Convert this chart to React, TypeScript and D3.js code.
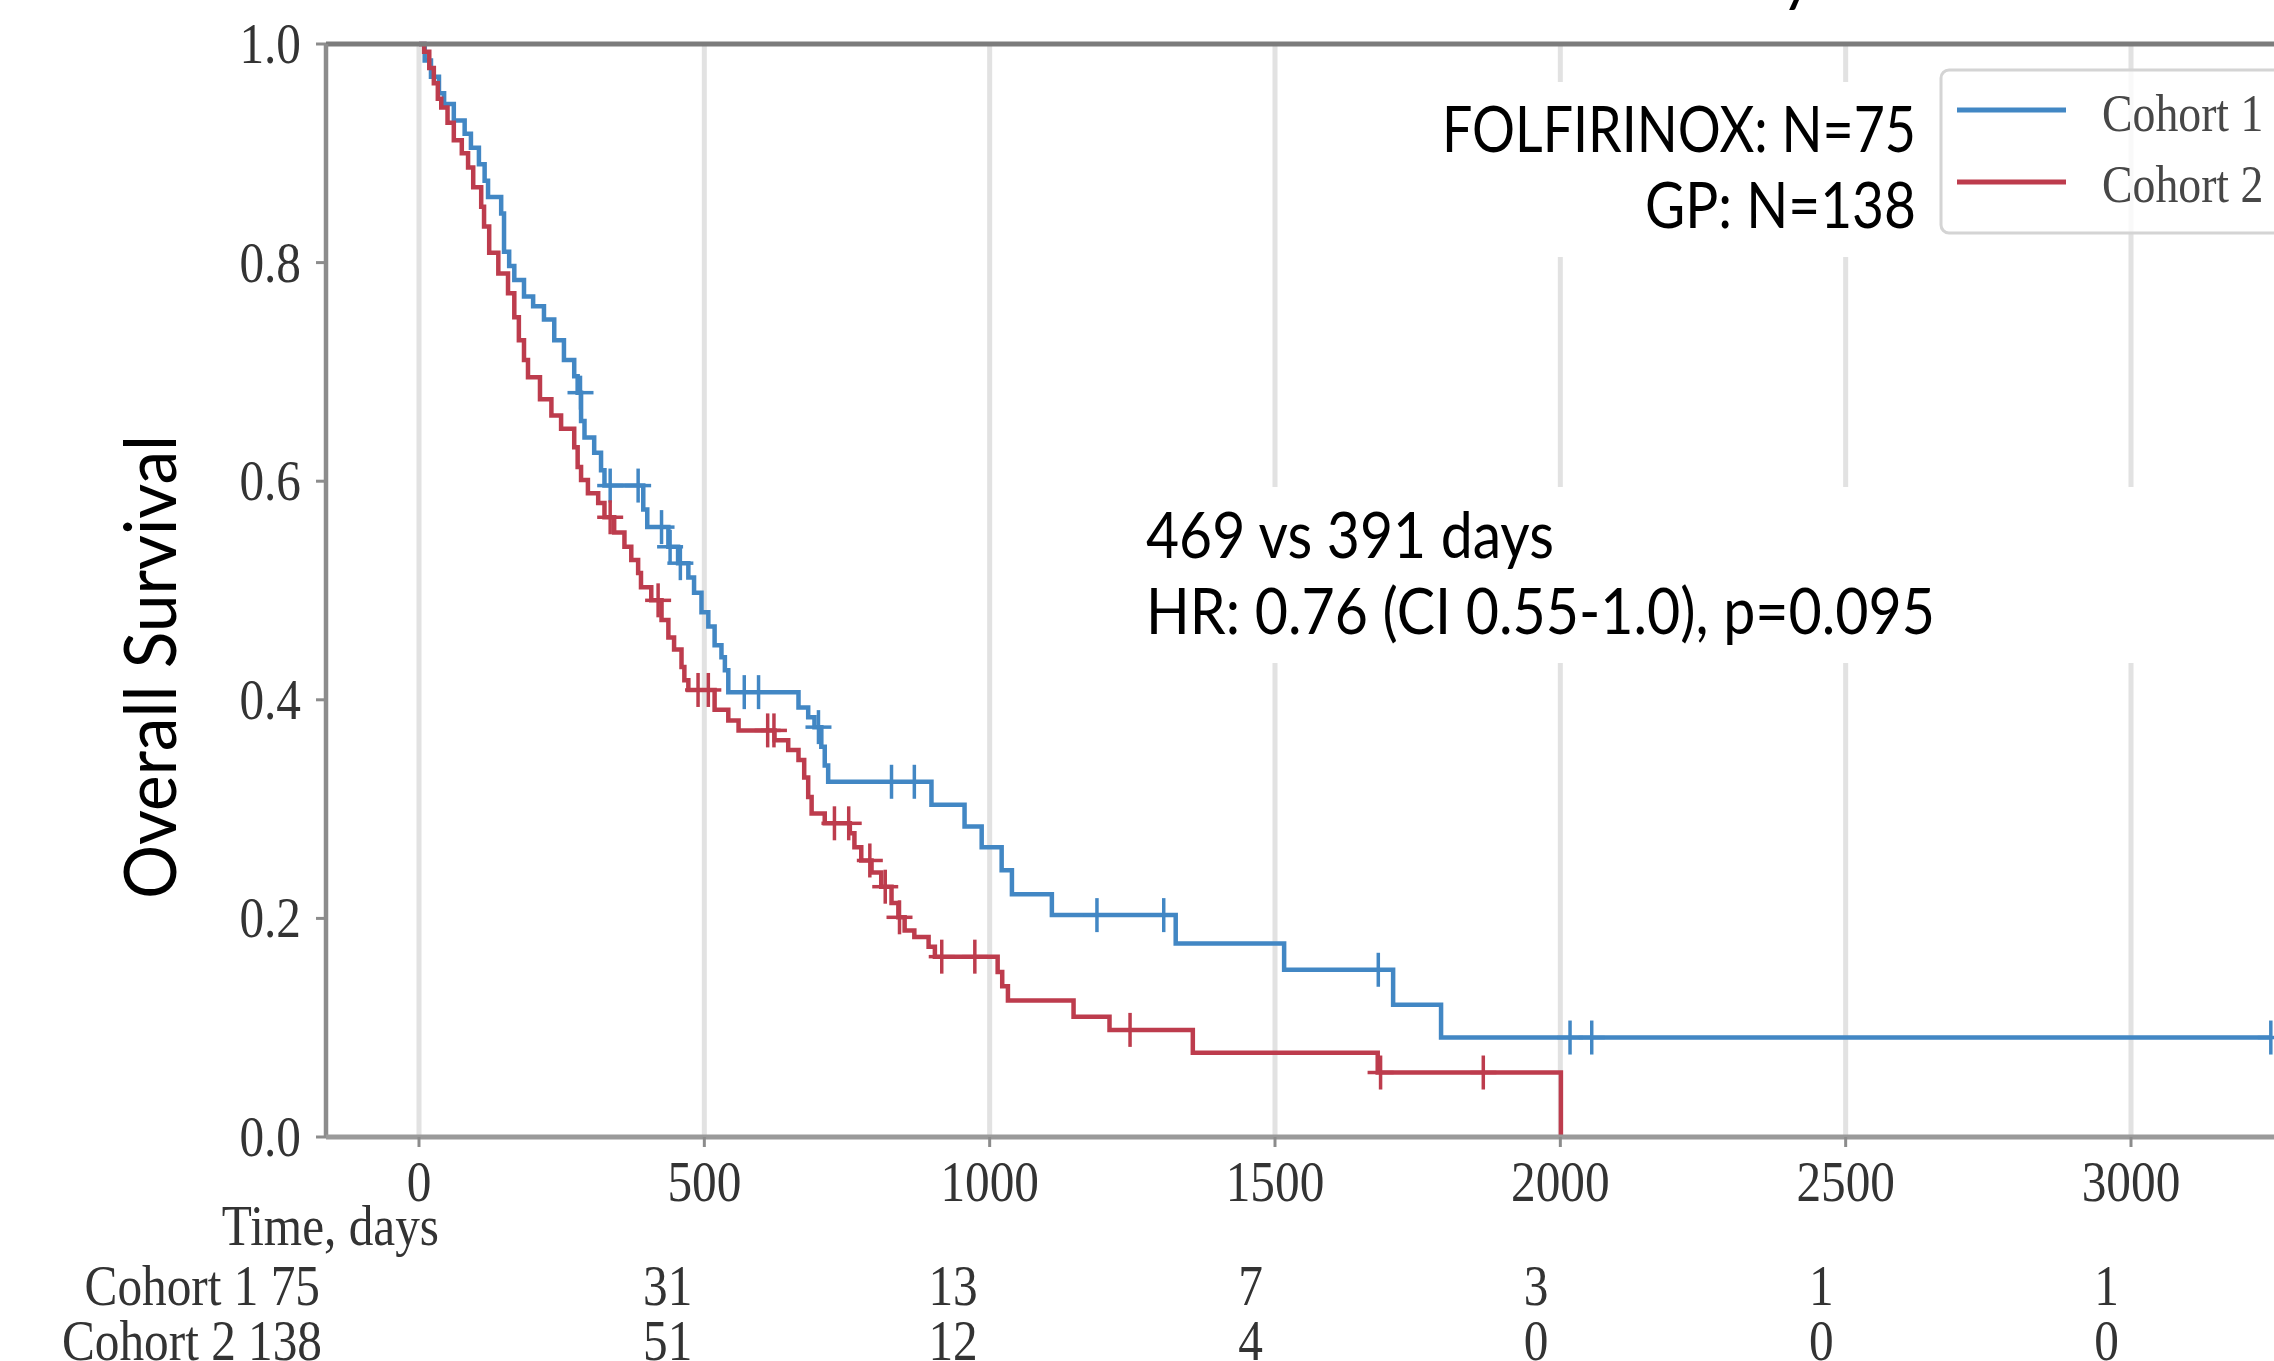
import React from 'react';
import * as d3 from 'd3';

// Kaplan-Meier steps (days, survival after the step)
const cohort1Days = [0, 10, 21, 35, 44, 61, 80, 91, 105, 115, 121, 144, 149, 158, 167, 184, 200, 219, 237, 254, 272, 278, 284, 290, 307, 319, 325, 393, 400, 437, 454, 472, 482, 495, 507, 518, 530, 536, 542, 665, 682, 693, 705, 711, 717, 898, 956, 986, 1021, 1039, 1109, 1326, 1516, 1707, 1791, 3245];
const cohort1Surv = [1, 0.985, 0.970, 0.955, 0.945, 0.930, 0.918, 0.905, 0.890, 0.875, 0.860, 0.845, 0.810, 0.797, 0.784, 0.769, 0.760, 0.748, 0.729, 0.711, 0.696, 0.681, 0.655, 0.640, 0.626, 0.610, 0.596, 0.574, 0.558, 0.540, 0.525, 0.512, 0.498, 0.480, 0.467, 0.450, 0.439, 0.427, 0.407, 0.393, 0.384, 0.375, 0.357, 0.340, 0.325, 0.304, 0.284, 0.265, 0.244, 0.222, 0.203, 0.177, 0.153, 0.121, 0.091, 0.091];
const cohort1Censored = [283, 335, 384, 425, 440, 458, 570, 595, 700, 828, 868, 1188, 1305, 1681, 2017, 2055, 3245];

const cohort2Days = [0, 9, 18, 26, 33, 39, 50, 61, 75, 86, 95, 109, 114, 123, 139, 156, 167, 175, 184, 191, 212, 232, 249, 272, 278, 284, 296, 314, 325, 342, 360, 372, 384, 389, 407, 425, 437, 447, 460, 465, 472, 518, 542, 560, 623, 647, 665, 675, 682, 688, 711, 755, 763, 775, 793, 810, 828, 840, 851, 868, 893, 904, 1014, 1022, 1032, 1147, 1210, 1356, 1680, 2001];
const cohort2Surv = [1, 0.993, 0.978, 0.964, 0.950, 0.942, 0.928, 0.912, 0.900, 0.887, 0.869, 0.851, 0.833, 0.809, 0.790, 0.772, 0.750, 0.729, 0.711, 0.695, 0.675, 0.660, 0.648, 0.631, 0.613, 0.601, 0.589, 0.580, 0.567, 0.553, 0.540, 0.528, 0.516, 0.503, 0.491, 0.473, 0.457, 0.446, 0.430, 0.418, 0.409, 0.391, 0.381, 0.372, 0.363, 0.354, 0.345, 0.329, 0.311, 0.296, 0.287, 0.278, 0.265, 0.253, 0.242, 0.229, 0.214, 0.201, 0.189, 0.183, 0.174, 0.165, 0.151, 0.138, 0.125, 0.110, 0.098, 0.077, 0.059, 0];
const cohort2Censored = [335, 419, 489, 507, 611, 622, 728, 753, 790, 817, 842, 916, 974, 1246, 1685, 1865];

const xTicks = [0, 500, 1000, 1500, 2000, 2500, 3000];
const yTicks = [0, 0.2, 0.4, 0.6, 0.8, 1.0];
const legendLabels = ['Cohort 1', 'Cohort 2'];
const riskRowLabels = ['Cohort 1 75', 'Cohort 2 138'];
const riskTimes = [500, 1000, 1500, 2000, 2500, 3000];
const riskCohort1 = [31, 13, 7, 3, 1, 1];
const riskCohort2 = [51, 12, 4, 0, 0, 0];

const W = 2274;
const H = 1361;
const BLUE = '#4287c4';
const RED = '#bd3c4d';
const SERIF = "'Liberation Serif', 'DejaVu Serif', serif";
const SANS = "Lato, 'Open Sans', sans-serif";

const x = d3.scaleLinear().domain([0, 3000]).range([419, 2131]);
const y = d3.scaleLinear().domain([0, 1]).range([1137, 44]);
const frameLeft = 326;

const stepLine = d3.line<[number, number]>()
  .x(d => x(d[0]))
  .y(d => y(d[1]))
  .curve(d3.curveStepAfter);

const survAt = (days: number[], surv: number[], t: number) => {
  const i = d3.bisectRight(days, t) - 1;
  return surv[Math.max(0, i)];
};

const Serif: React.FC<{ x: number; y: number; anchor?: string; size?: number; fill?: string; children: React.ReactNode }> =
  ({ x, y, anchor = 'middle', size = 56, fill = '#333', children }) => (
    <text transform={`translate(${x},${y}) scale(0.88,1)`} textAnchor={anchor}
      fontFamily={SERIF} fontSize={size} fill={fill}>{children}</text>
  );

const Curve: React.FC<{ days: number[]; surv: number[]; censored: number[]; color: string }> =
  ({ days, surv, censored, color }) => {
    const pts = days.map((d, i) => [d, surv[i]] as [number, number]);
    return (
      <g>
        <path d={stepLine(pts) || ''} fill="none" stroke={color} strokeWidth={4.5} />
        {censored.map((c, i) => {
          const cx = x(c);
          const cy = y(survAt(days, surv, c));
          return (
            <g key={i} stroke={color} strokeWidth={3.5}>
              <line x1={cx} x2={cx} y1={cy - 17} y2={cy + 17} />
              <line x1={cx - 13} x2={cx + 13} y1={cy} y2={cy} />
            </g>
          );
        })}
      </g>
    );
  };

const App: React.FC = () => {
  return (
    <svg width={W} height={H} style={{ position: 'absolute', left: 0, top: 0, background: '#fff' }}>
      {/* cropped title fragment */}
      <text x={1781} y={-1} fontFamily={SANS} fontSize={64} fill="#000">y</text>

      {/* vertical grid */}
      {xTicks.map(t => (
        <line key={t} x1={x(t)} x2={x(t)} y1={y(1)} y2={y(0)} stroke="#e2e2e2" strokeWidth={5} />
      ))}

      {/* white text boxes pasted over the plot */}
      <rect x={1420} y={82} width={516} height={175} fill="#fff" />
      <rect x={1130} y={487} width={W - 1130} height={176} fill="#fff" />

      <Curve days={cohort1Days} surv={cohort1Surv} censored={cohort1Censored} color={BLUE} />
      <Curve days={cohort2Days} surv={cohort2Surv} censored={cohort2Censored} color={RED} />

      {/* spines */}
      <line x1={frameLeft} x2={W} y1={y(1)} y2={y(1)} stroke="#7c7c7c" strokeWidth={5} />
      <line x1={frameLeft} x2={frameLeft} y1={y(1)} y2={y(0)} stroke="#8c8c8c" strokeWidth={4.5} />
      <line x1={frameLeft} x2={W} y1={y(0)} y2={y(0)} stroke="#9a9a9a" strokeWidth={5} />

      {/* y axis */}
      {yTicks.map(t => (
        <g key={t}>
          <line x1={frameLeft - 10} x2={frameLeft} y1={y(t)} y2={y(t)} stroke="#8c8c8c" strokeWidth={3} />
          <Serif x={301} y={y(t) + 19} anchor="end">{t.toFixed(1)}</Serif>
        </g>
      ))}

      {/* x axis */}
      {xTicks.map(t => (
        <g key={t}>
          <line x1={x(t)} x2={x(t)} y1={y(0)} y2={y(0) + 10} stroke="#8c8c8c" strokeWidth={3} />
          <Serif x={x(t)} y={1201}>{t}</Serif>
        </g>
      ))}
      <Serif x={439} y={1245} anchor="end">Time, days</Serif>

      {/* at-risk table */}
      <Serif x={320} y={1305} anchor="end">{riskRowLabels[0]}</Serif>
      <Serif x={322} y={1360} anchor="end">{riskRowLabels[1]}</Serif>
      {riskTimes.map((t, i) => (
        <g key={t}>
          <Serif x={x(t) - 12} y={1305} anchor="end">{riskCohort1[i]}</Serif>
          <Serif x={x(t) - 12} y={1360} anchor="end">{riskCohort2[i]}</Serif>
        </g>
      ))}

      {/* legend */}
      <rect x={1941} y={70} width={420} height={163} rx={8} fill="#fff" fillOpacity={0.8} stroke="#d4d4d4" strokeWidth={3} />
      {legendLabels.map((l, i) => (
        <g key={l}>
          <line x1={1957} x2={2066} y1={110 + i * 72} y2={110 + i * 72} stroke={i === 0 ? BLUE : RED} strokeWidth={5} />
          <Serif x={2102} y={131 + i * 71} anchor="start" size={52} fill="#474747">{l}</Serif>
        </g>
      ))}

      {/* y axis title */}
      <text transform={`translate(176,667) rotate(-90)`} textAnchor="middle" fontFamily={SANS}
        fontSize={72} fill="#000" textLength={464} lengthAdjust="spacingAndGlyphs">Overall Survival</text>

      {/* annotations */}
      <text x={1916} y={152} textAnchor="end" fontFamily={SANS} fontSize={64} fill="#000"
        textLength={474} lengthAdjust="spacingAndGlyphs">FOLFIRINOX: N=75</text>
      <text x={1916} y={228} textAnchor="end" fontFamily={SANS} fontSize={64} fill="#000"
        textLength={271} lengthAdjust="spacingAndGlyphs">GP: N=138</text>
      <text x={1146} y={558} fontFamily={SANS} fontSize={64} fill="#000"
        textLength={408} lengthAdjust="spacingAndGlyphs">469 vs 391 days</text>
      <text x={1146} y={634} fontFamily={SANS} fontSize={64} fill="#000"
        textLength={789} lengthAdjust="spacingAndGlyphs">HR: 0.76 (CI 0.55-1.0), p=0.095</text>
    </svg>
  );
};

export default App;
